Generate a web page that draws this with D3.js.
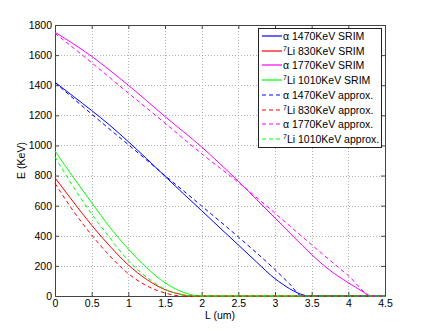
<!DOCTYPE html>
<html>
<head>
<meta charset="utf-8">
<script src="https://cdn.jsdelivr.net/npm/d3@7"></script>
<style>
  body { margin: 0; background: #fff; }
  text { font-family: "Liberation Sans", Arial, sans-serif; }
</style>
</head>
<body>
<div id="chart"></div>
<script>
// data: L (um) and E (KeV) for each curve
const alphaLowL  = [0, 0.25, 0.5, 0.75, 1, 1.25, 1.5, 1.75, 2, 2.25, 2.5, 2.75, 3, 3.1, 3.2, 3.3, 3.4, 3.45, 4.5];
const alphaLowE  = [1420, 1326, 1232, 1133, 1025, 912, 795, 680, 567, 452, 339, 225, 115, 80, 48, 22, 5, 0, 0];
const liLowL     = [0, 0.25, 0.5, 0.75, 1, 1.25, 1.5, 1.75, 1.85, 4.5];
const liLowE     = [785, 625, 470, 330, 206, 110, 42, 8, 0, 0];
const alphaHighL = [0, 0.25, 0.5, 0.75, 1, 1.25, 1.5, 1.75, 2, 2.25, 2.5, 2.75, 3, 3.25, 3.5, 3.75, 4, 4.1, 4.2, 4.29, 4.5];
const alphaHighE = [1752, 1675, 1592, 1498, 1400, 1297, 1192, 1092, 990, 878, 762, 640, 518, 395, 275, 170, 88, 58, 28, 0, 0];
const liHighL    = [0, 0.25, 0.5, 0.75, 1, 1.25, 1.5, 1.75, 2, 4.5];
const liHighE    = [963, 788, 620, 455, 312, 188, 88, 25, 0, 0];

const alphaLowApproxL  = [0, 0.5, 1, 1.5, 2, 2.5, 3, 3.2, 3.37, 4.5];
const alphaLowApproxE  = [1418, 1208, 1005, 800, 598, 392, 175, 80, 0, 0];
const liLowApproxL     = [0, 0.25, 0.5, 0.75, 1, 1.25, 1.5, 1.73, 4.5];
const liLowApproxE     = [748, 565, 405, 265, 148, 68, 20, 0, 0];
const alphaHighApproxL = [0, 0.5, 1, 1.5, 2, 2.5, 3, 3.5, 4, 4.33, 4.5];
const alphaHighApproxE = [1745, 1550, 1348, 1148, 945, 755, 550, 340, 135, 0, 0];
const liHighApproxL    = [0, 0.25, 0.5, 0.75, 1, 1.25, 1.5, 1.75, 1.85, 4.5];
const liHighApproxE    = [925, 725, 545, 385, 235, 125, 45, 8, 0, 0];

const xTicks = [0, 0.5, 1, 1.5, 2, 2.5, 3, 3.5, 4, 4.5];
const yTicks = [0, 200, 400, 600, 800, 1000, 1200, 1400, 1600, 1800];

const series = [
  { name: "α", rest: " 1470KeV SRIM", color: "#0000ff", dash: null, L: alphaLowL, E: alphaLowE },
  { name: "7", rest: "Li 830KeV SRIM", sup: true, color: "#ff0000", dash: null, L: liLowL, E: liLowE },
  { name: "α", rest: " 1770KeV SRIM", color: "#ff00ff", dash: null, L: alphaHighL, E: alphaHighE },
  { name: "7", rest: "Li 1010KeV SRIM", sup: true, color: "#00ff00", dash: null, L: liHighL, E: liHighE },
  { name: "α", rest: " 1470KeV approx.", color: "#0000ff", dash: "4,3", L: alphaLowApproxL, E: alphaLowApproxE },
  { name: "7", rest: "Li 830KeV approx.", sup: true, color: "#ff0000", dash: "4,3", L: liLowApproxL, E: liLowApproxE },
  { name: "α", rest: " 1770KeV approx.", color: "#ff00ff", dash: "4,3", L: alphaHighApproxL, E: alphaHighApproxE },
  { name: "7", rest: "Li 1010KeV approx.", sup: true, color: "#00ff00", dash: "4,3", L: liHighApproxL, E: liHighApproxE }
];

// set dimensions and margins
const margin = { top: 25, right: 40, bottom: 37, left: 55 },
      width = 425 - margin.left - margin.right,
      height = 333 - margin.top - margin.bottom;

const svg = d3.select("#chart")
  .append("svg")
    .attr("width", 425)
    .attr("height", 333)
  .append("g")
    .attr("transform", `translate(${margin.left},${margin.top})`);

const x = d3.scaleLinear().domain([0, 4.5]).range([0, width]);
const y = d3.scaleLinear().domain([0, 1800]).range([height, 0]);

// dotted grid
svg.append("g")
  .selectAll("line")
  .data(xTicks.slice(1, -1))
  .join("line")
    .attr("x1", d => Math.round(x(d)) + 0.5)
    .attr("x2", d => Math.round(x(d)) + 0.5)
    .attr("y1", 0)
    .attr("y2", height)
    .attr("stroke", "#b0b0b0")
    .attr("stroke-dasharray", "1,2");

svg.append("g")
  .selectAll("line")
  .data(yTicks.slice(1, -1))
  .join("line")
    .attr("x1", 0)
    .attr("x2", width)
    .attr("y1", d => Math.round(y(d)) + 0.5)
    .attr("y2", d => Math.round(y(d)) + 0.5)
    .attr("stroke", "#b0b0b0")
    .attr("stroke-dasharray", "1,2");

// axes, ticks pointing inward like matlab
const fmt = d => String(d);
svg.append("g")
  .attr("transform", `translate(0,${height})`)
  .call(d3.axisBottom(x).tickValues(xTicks).tickFormat(fmt).tickSizeInner(-4).tickSizeOuter(0).tickPadding(4));
svg.append("g")
  .call(d3.axisLeft(y).tickValues(yTicks).tickFormat(fmt).tickSizeInner(-4).tickSizeOuter(0).tickPadding(3));
svg.append("g")
  .call(d3.axisTop(x).tickValues(xTicks).tickFormat("").tickSizeInner(-4).tickSizeOuter(0));
svg.append("g")
  .attr("transform", `translate(${width},0)`)
  .call(d3.axisRight(y).tickValues(yTicks).tickFormat("").tickSizeInner(-4).tickSizeOuter(0));

svg.selectAll(".domain").attr("stroke", "#444");
svg.selectAll(".tick line").attr("stroke", "#444");
svg.selectAll(".tick text").attr("font-size", "10.5px").attr("fill", "#000");

// curves
const line = d3.line()
  .x(d => x(d[0]))
  .y(d => y(d[1]))
  .curve(d3.curveMonotoneX);

svg.selectAll(".curve")
  .data(series)
  .join("path")
    .attr("class", "curve")
    .attr("d", s => line(s.L.map((l, i) => [l, s.E[i]])))
    .attr("fill", "none")
    .attr("stroke", s => s.color)
    .attr("stroke-width", 1)
    .attr("stroke-dasharray", s => s.dash);

// axis labels
svg.append("text")
  .attr("x", width / 2)
  .attr("y", height + 23)
  .attr("text-anchor", "middle")
  .attr("font-size", "10.5px")
  .text("L (um)");

svg.append("text")
  .attr("transform", `translate(${-30},${height / 2}) rotate(-90)`)
  .attr("text-anchor", "middle")
  .attr("font-size", "10.5px")
  .text("E (KeV)");

// legend
const legend = svg.append("g").attr("transform", "translate(203,3)");
legend.append("rect")
  .attr("x", 0.5)
  .attr("y", 0.5)
  .attr("width", 123)
  .attr("height", 119)
  .attr("fill", "#fff")
  .attr("stroke", "#222");

const rows = legend.selectAll(".row")
  .data(series)
  .join("g")
    .attr("class", "row")
    .attr("transform", (d, i) => `translate(0,${Math.round(8 + i * 14.7)})`);

rows.append("line")
  .attr("x1", 4)
  .attr("x2", 24)
  .attr("stroke", d => d.color)
  .attr("stroke-width", 1.2)
  .attr("stroke-dasharray", d => d.dash);

const lt = rows.append("text")
  .attr("x", 25)
  .attr("y", 3.5)
  .attr("font-size", "10.5px");
lt.append("tspan")
  .attr("font-size", d => d.sup ? "7px" : "10.5px")
  .attr("dy", d => d.sup ? -4 : 0)
  .text(d => d.name);
lt.append("tspan")
  .attr("dy", d => d.sup ? 4 : 0)
  .text(d => d.rest);
</script>
</body>
</html>
